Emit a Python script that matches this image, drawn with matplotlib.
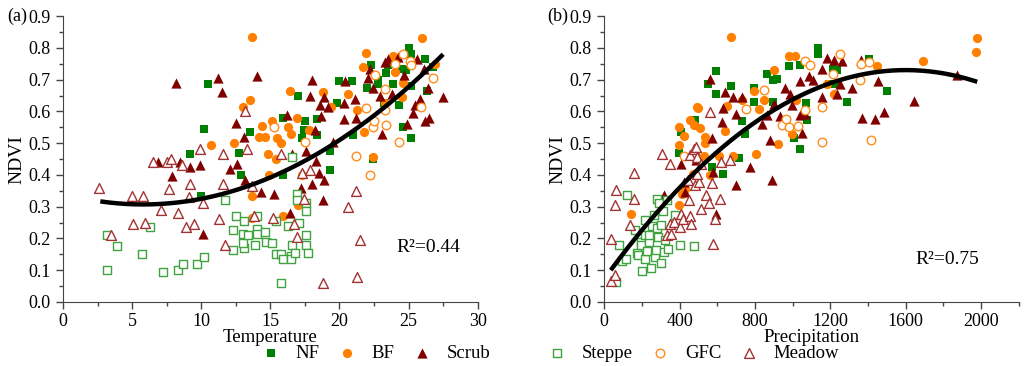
import matplotlib
matplotlib.use('Agg')
import numpy as np
import matplotlib.pyplot as plt
from matplotlib.ticker import MultipleLocator

plt.rcParams['font.family'] = ['Liberation Serif', 'DejaVu Serif']

# ---------------- panel (a): NDVI vs temperature ----------------
nf_t = [9.2, 10.0, 10.2, 10.5, 12.7, 12.9, 13.5, 15.9, 15.9, 17.0, 17.5, 17.4, 17.3, 18.4, 18.4, 19.3, 19.3,
        19.8, 20.0, 20.9, 21.0, 22.0, 22.3, 22.4, 22.8, 22.8, 23.2, 23.4, 23.5, 23.9, 24.3, 24.5, 24.6, 24.8,
        25.0, 25.2, 25.2, 25.2, 26.2, 26.3, 26.8]
nf_v = [0.465, 0.335, 0.545, 0.685, 0.47, 0.40, 0.535, 0.40, 0.58, 0.65, 0.57, 0.54, 0.515, 0.525, 0.575, 0.475, 0.415,
        0.625, 0.695, 0.695, 0.525, 0.675, 0.745, 0.45, 0.70, 0.685, 0.625, 0.72, 0.745, 0.685, 0.62, 0.735, 0.55, 0.73,
        0.80, 0.78, 0.515, 0.68, 0.765, 0.665, 0.74]

bf_t = [13.7, 10.7, 12.4, 13.0, 13.5, 13.7, 13.7, 14.2, 14.4, 14.6, 14.8, 14.9, 15.1, 15.4, 15.5, 15.8, 15.9, 16.3,
        16.4, 16.5, 16.9, 17.0, 17.3, 17.8, 18.8, 19.4, 20.6, 21.3, 21.7, 21.8, 21.9, 22.4, 23.3, 23.9, 24.0, 24.5,
        24.6, 26.0, 26.9]
bf_v = [0.835, 0.495, 0.50, 0.615, 0.635, 0.335, 0.265, 0.52, 0.555, 0.52, 0.465, 0.40, 0.57, 0.45, 0.515, 0.50, 0.27, 0.55,
        0.665, 0.53, 0.58, 0.305, 0.40, 0.54, 0.66, 0.615, 0.655, 0.605, 0.74, 0.535, 0.785, 0.455, 0.625, 0.775, 0.725, 0.645,
        0.69, 0.83, 0.75]

scrub_t = [8.2, 6.9, 7.9, 8.5, 9.2, 9.9, 10.1, 11.2, 11.5, 12.1, 12.6, 12.5, 13.1, 13.2, 14.0, 14.3, 15.3, 16.2, 16.4,
           16.6, 17.2, 17.6, 17.9, 18.0, 18.0, 18.2, 18.3, 18.5, 18.6, 18.7, 18.9, 18.9, 18.8, 19.2, 19.5, 20.3, 20.3,
           20.4, 21.1, 21.2, 22.2, 22.4, 22.9, 23.1, 23.3, 23.5, 23.8, 24.2, 24.7, 24.9, 25.3, 25.5, 25.6, 25.8, 26.1,
           26.2, 26.5, 26.4, 27.5, 22.1]
scrub_v = [0.69, 0.44, 0.395, 0.44, 0.425, 0.43, 0.215, 0.705, 0.66, 0.42, 0.435, 0.565, 0.52, 0.385, 0.71, 0.345, 0.34, 0.59, 0.28,
           0.465, 0.36, 0.475, 0.65, 0.37, 0.70, 0.54, 0.445, 0.405, 0.62, 0.585, 0.645, 0.385, 0.32, 0.615, 0.505, 0.625, 0.575,
           0.695, 0.64, 0.58, 0.735, 0.675, 0.65, 0.53, 0.755, 0.765, 0.655, 0.77, 0.715, 0.56, 0.595, 0.62, 0.765, 0.64, 0.735,
           0.57, 0.58, 0.675, 0.645, 0.705]

steppe_t = [3.2, 3.2, 3.9, 5.75, 6.3, 7.2, 8.3, 8.7, 9.7, 10.2, 11.7, 12.5, 12.3, 12.3, 13.0, 13.1, 13.1, 13.0, 13.4,
            14.0, 14.0, 14.0, 13.9, 14.6, 14.7, 15.1, 15.4, 15.8, 15.8, 15.9, 16.5, 16.5, 16.6, 16.8, 16.3, 17.1, 16.9,
            16.9, 17.6, 17.6, 17.6, 17.6, 17.7, 16.6, 15.4]
steppe_v = [0.21, 0.10, 0.175, 0.15, 0.235, 0.095, 0.10, 0.12, 0.12, 0.14, 0.32, 0.27, 0.225, 0.165, 0.215, 0.255, 0.17, 0.185, 0.21,
            0.27, 0.23, 0.215, 0.18, 0.22, 0.19, 0.185, 0.15, 0.15, 0.06, 0.135, 0.145, 0.135, 0.18, 0.155, 0.24, 0.25, 0.34,
            0.32, 0.31, 0.285, 0.21, 0.18, 0.155, 0.455, 0.255]

gfc_t = [15.3, 17.5, 21.2, 21.9, 22.2, 22.4, 22.5, 22.6, 23.3, 23.3, 23.4, 24.0, 24.3, 24.6, 25.1, 25.2, 25.9, 26.8]
gfc_v = [0.55, 0.505, 0.46, 0.61, 0.40, 0.55, 0.57, 0.715, 0.67, 0.605, 0.557, 0.75, 0.505, 0.78, 0.76, 0.745, 0.615, 0.705]

meadow_t = [2.6, 3.5, 5.0, 5.1, 5.8, 5.9, 6.5, 7.1, 7.5, 7.7, 7.8, 8.3, 8.6, 8.9, 9.1, 9.2, 9.5, 9.9, 10.1, 11.3,
            11.6, 11.6, 11.7, 13.2, 13.3, 13.7, 13.8, 15.2, 15.8, 16.7, 16.9, 17.3, 17.4, 17.9, 18.8, 20.6, 21.2,
            21.3, 21.5]
meadow_v = [0.36, 0.21, 0.335, 0.245, 0.335, 0.25, 0.44, 0.29, 0.44, 0.355, 0.45, 0.28, 0.43, 0.235, 0.33, 0.37, 0.245, 0.48,
            0.31, 0.26, 0.37, 0.465, 0.18, 0.60, 0.48, 0.365, 0.27, 0.265, 0.465, 0.245, 0.205, 0.405, 0.325, 0.415, 0.06,
            0.30, 0.35, 0.08, 0.195]

# quadratic fit (a): y = a*(x-h)^2 + k
fit_a = (0.001004, 5.8, 0.307)
fit_a_range = (2.7, 27.5)

# ---------------- panel (b): NDVI vs precipitation ----------------
nf_p = [594, 552, 594, 674, 405, 396, 481, 732, 746, 714, 796, 797, 865, 897, 918, 897, 980, 1006, 1038, 1038,
        1134, 1134, 1073, 1077, 1215, 1236, 1236, 1289, 1406, 1498, 630, 570, 1192]
nf_pv = [0.727, 0.687, 0.656, 0.68, 0.535, 0.469, 0.572, 0.57, 0.53, 0.454, 0.675, 0.63, 0.717, 0.70, 0.703, 0.63, 0.743, 0.516,
         0.48, 0.747, 0.80, 0.782, 0.625, 0.572, 0.735, 0.73, 0.687, 0.63, 0.766, 0.663, 0.404, 0.425, 0.687]

bf_p = [674, 140, 396, 396, 396, 423, 454, 476, 490, 499, 511, 534, 534, 529, 564, 608, 640, 653, 683, 732, 794,
        803, 820, 847, 900, 923, 980, 994, 1015, 1020, 1183, 1218, 1448, 1692, 1975, 1979, 431, 414, 470]
bf_pv = [0.834, 0.276, 0.306, 0.495, 0.551, 0.521, 0.574, 0.556, 0.614, 0.61, 0.548, 0.519, 0.50, 0.46, 0.399, 0.46, 0.537,
         0.616, 0.46, 0.637, 0.664, 0.467, 0.609, 0.635, 0.731, 0.498, 0.773, 0.53, 0.773, 0.635, 0.687, 0.656, 0.742, 0.758,
         0.787, 0.831, 0.357, 0.341, 0.404]

scrub_p = [320, 405, 431, 423, 485, 564, 570, 578, 594, 626, 630, 640, 684, 700, 732, 697, 773, 838, 879, 891, 865,
           902, 935, 958, 985, 994, 1038, 1041, 1050, 1068, 1086, 1109, 1153, 1153, 1183, 1218, 1236, 1262, 1253,
           1316, 1369, 1365, 1439, 1453, 1484, 1643, 1873]
scrub_pv = [0.338, 0.435, 0.346, 0.378, 0.446, 0.703, 0.517, 0.41, 0.278, 0.567, 0.61, 0.661, 0.645, 0.367, 0.645, 0.593, 0.425,
            0.561, 0.509, 0.385, 0.588, 0.624, 0.585, 0.675, 0.656, 0.621, 0.696, 0.588, 0.532, 0.593, 0.71, 0.698, 0.645,
            0.734, 0.768, 0.761, 0.656, 0.758, 0.685, 0.675, 0.579, 0.761, 0.575, 0.695, 0.598, 0.632, 0.714]

steppe_p = [122, 78, 64, 95, 118, 163, 175, 180, 193, 198, 200, 216, 219, 219, 228, 237, 251, 255, 263, 272, 276,
            278, 281, 285, 290, 299, 311, 317, 334, 340, 378, 401, 476, 325, 299, 237]
steppe_pv = [0.338, 0.18, 0.063, 0.128, 0.136, 0.228, 0.154, 0.147, 0.19, 0.178, 0.098, 0.212, 0.257, 0.136, 0.16, 0.189,
             0.107, 0.238, 0.275, 0.142, 0.163, 0.325, 0.233, 0.203, 0.31, 0.124, 0.285, 0.157, 0.32, 0.168, 0.275, 0.18,
             0.176, 0.196, 0.243, 0.21]

gfc_p = [423, 847, 750, 941, 966, 983, 1026, 1065, 1091, 1065, 1157, 1157, 1213, 1250, 1356, 1365, 1404, 1413]
gfc_pv = [0.46, 0.668, 0.609, 0.558, 0.575, 0.55, 0.553, 0.76, 0.747, 0.605, 0.614, 0.503, 0.717, 0.78, 0.70, 0.748,
          0.754, 0.509]

meadow_p = [34, 36, 55, 55, 65, 136, 157, 160, 308, 348, 331, 357, 347, 370, 401, 405, 419, 449, 454, 460, 454, 476,
            485, 490, 481, 502, 515, 538, 555, 561, 570, 578, 587, 612, 618, 667, 444, 493, 515]
meadow_pv = [0.065, 0.197, 0.084, 0.304, 0.352, 0.243, 0.324, 0.407, 0.467, 0.433, 0.212, 0.215, 0.247, 0.252, 0.236, 0.278,
             0.262, 0.32, 0.27, 0.247, 0.464, 0.483, 0.488, 0.456, 0.367, 0.378, 0.294, 0.336, 0.31, 0.598, 0.375, 0.184,
             0.262, 0.325, 0.441, 0.446, 0.383, 0.404, 0.435]

# quadratic fit (b): y = k - a*(x-h)^2
fit_b = (2.572e-7, 1600, 0.73)
fit_b_range = (35, 1979)

# ---------------- styles ----------------
c_nf = '#008000'
c_bf = '#ff8000'
c_scrub = '#800000'
c_steppe = '#3fa33f'
c_gfc = '#ff8c1a'
c_meadow = '#a33333'
c_axis = '#444444'

fig = plt.figure(figsize=(10.24, 3.66), dpi=100)
ax1 = fig.add_axes([0.0615, 0.175, 0.405, 0.781])
ax2 = fig.add_axes([0.590, 0.175, 0.405, 0.781])


def scatter_all(ax, xs, ys):
    h = {}
    h['NF'] = ax.scatter(xs[0], ys[0], marker='s', s=30, c=c_nf, linewidths=0, zorder=3)
    h['BF'] = ax.scatter(xs[1], ys[1], marker='o', s=44, c=c_bf, linewidths=0, zorder=3)
    h['Scrub'] = ax.scatter(xs[2], ys[2], marker='^', s=54, c=c_scrub, linewidths=0, zorder=3)
    h['Steppe'] = ax.scatter(xs[3], ys[3], marker='s', s=26, facecolors='white', edgecolors=c_steppe,
                             linewidths=1.0, zorder=4)
    h['GFC'] = ax.scatter(xs[4], ys[4], marker='o', s=38, facecolors='white', edgecolors=c_gfc,
                          linewidths=1.0, zorder=4)
    h['Meadow'] = ax.scatter(xs[5], ys[5], marker='^', s=50, facecolors='white', edgecolors=c_meadow,
                             linewidths=1.0, zorder=4)
    return h


h1 = scatter_all(ax1, [nf_t, bf_t, scrub_t, steppe_t, gfc_t, meadow_t],
                 [nf_v, bf_v, scrub_v, steppe_v, gfc_v, meadow_v])
h2 = scatter_all(ax2, [nf_p, bf_p, scrub_p, steppe_p, gfc_p, meadow_p],
                 [nf_pv, bf_pv, scrub_pv, steppe_pv, gfc_pv, meadow_pv])

xa = np.linspace(fit_a_range[0], fit_a_range[1], 200)
ax1.plot(xa, fit_a[0] * (xa - fit_a[1]) ** 2 + fit_a[2], color='black', lw=3.2, zorder=5, solid_capstyle='butt')
xb = np.linspace(fit_b_range[0], fit_b_range[1], 200)
ax2.plot(xb, fit_b[2] - fit_b[0] * (xb - fit_b[1]) ** 2, color='black', lw=3.2, zorder=5, solid_capstyle='butt')

for ax in (ax1, ax2):
    ax.set_ylim(0, 0.9)
    ax.yaxis.set_major_locator(MultipleLocator(0.1))
    ax.yaxis.set_minor_locator(MultipleLocator(0.05))
    ax.yaxis.set_major_formatter(matplotlib.ticker.FormatStrFormatter('%.1f'))
    ax.spines['top'].set_visible(False)
    ax.spines['right'].set_visible(False)
    ax.spines['left'].set_color(c_axis)
    ax.spines['bottom'].set_color(c_axis)
    ax.tick_params(which='both', direction='out', labelsize=13, width=1, color=c_axis)
    ax.tick_params(which='major', length=5, pad=3)
    ax.tick_params(which='minor', length=3)
    ax.tick_params(axis='y', which='major', pad=4)
    ax.set_ylabel('NDVI', fontsize=14, labelpad=2)
    ax.xaxis.set_label_coords(0.5, -0.095)

ax1.set_xlim(0, 30)
ax1.xaxis.set_major_locator(MultipleLocator(5))
ax1.xaxis.set_minor_locator(MultipleLocator(2.5))
ax1.set_xlabel('Temperature', fontsize=13.5)

ax2.set_xlim(0, 2200)
ax2.set_xticks([0, 400, 800, 1200, 1600, 2000])
ax2.xaxis.set_minor_locator(MultipleLocator(200))
ax2.set_xlabel('Precipitation', fontsize=13.5)

ax1.text(24.1, 0.173, 'R²=0.44', fontsize=14, va='center')
ax2.text(1650, 0.135, 'R²=0.75', fontsize=14, va='center')

fig.text(0.007, 0.955, '(a)', fontsize=13, va='center')
fig.text(0.534, 0.955, '(b)', fontsize=13, va='center')

leg_kw = dict(loc='center', ncol=3, frameon=False, fontsize=13.5, handletextpad=0.9,
              columnspacing=1.1, borderpad=0, handlelength=0.8)
fig.legend([h1['NF'], h1['BF'], h1['Scrub']], ['NF', 'BF', 'Scrub'],
           bbox_to_anchor=(0.368, 0.035), **leg_kw)
fig.legend([h2['Steppe'], h2['GFC'], h2['Meadow']], ['Steppe', 'GFC', 'Meadow'],
           bbox_to_anchor=(0.678, 0.035), **leg_kw)

fig.savefig('out.png', dpi=100)
